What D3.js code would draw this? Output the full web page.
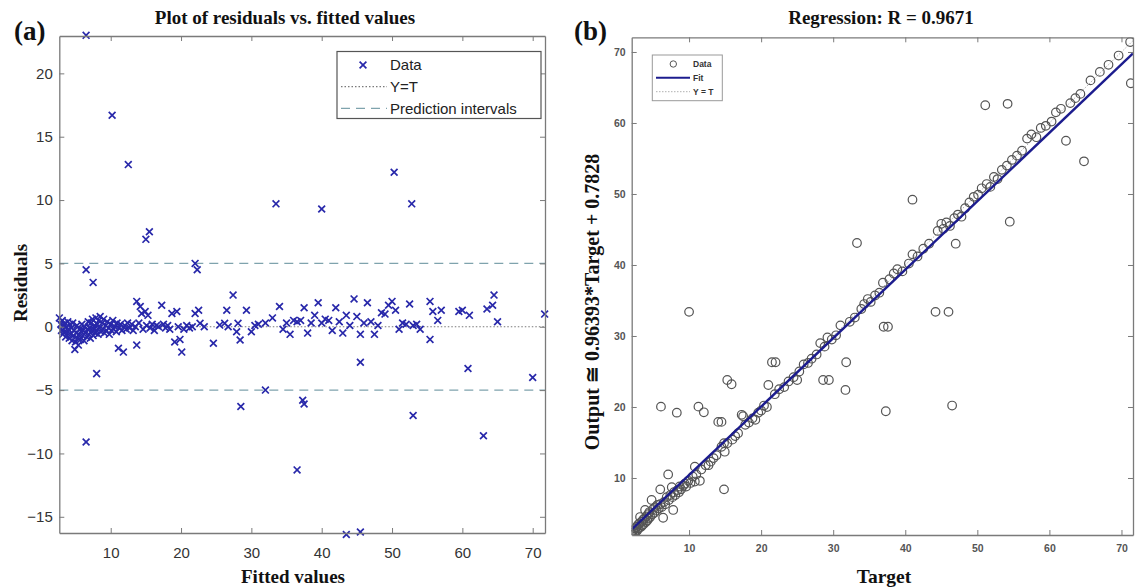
<!DOCTYPE html>
<html><head><meta charset="utf-8">
<script src="https://cdn.jsdelivr.net/npm/d3@7"></script>
<style>
body{margin:0;background:#fff;}
svg{display:block;}
</style></head>
<body>
<svg id="chart" width="1135" height="587"></svg>
<script>
// ---------- Panel (a): residuals vs fitted values ----------
const residFitted = [
2.7,2.9,3.0,3.1,3.2,3.3,3.4,3.5,3.6,3.7,3.8,3.9,4.0,4.1,4.2,4.3,4.4,4.5,4.6,4.7,4.8,4.9,5.0,5.1,5.2,5.3,5.4,5.5,5.6,5.7,5.8,5.9,6.0,6.1,6.2,6.3,6.4,6.6,6.7,6.8,6.9,7.0,7.1,7.2,7.3,7.4,7.5,7.6,7.7,7.8,7.9,8.0,8.1,8.2,8.3,8.4,8.5,8.6,8.8,8.9,9.0,9.1,9.3,9.4,9.5,9.7,9.8,10.0,10.1,10.3,10.4,10.6,10.8,10.9,11.1,11.2,11.4,11.6,11.8,12.0,12.2,12.4,12.7,13.0,13.2,13.5,13.7,13.7,14.0,14.2,14.4,14.6,14.9,15.1,15.3,15.6,15.9,16.2,16.5,16.8,17.25,17.5,17.8,18.1,18.4,18.7,19.1,19.4,19.6,19.85,20.1,20.4,20.8,21.2,21.6,22.0,22.5,22.7,23.3,24.6,25.5,26.2,26.5,26.7,27.4,27.9,28.1,28.4,29.3,30.0,
30.5,31.0,32.0,33.0,34.0,34.5,35.0,35.5,36.0,36.5,37.0,37.5,38.0,38.5,39.0,39.5,40.0,40.5,41.0,41.5,42.0,42.5,43.0,43.5,44.0,44.6,45.0,45.5,46.0,46.5,47.0,47.5,48.0,48.5,49.0,49.5,50.0,50.5,51.0,51.5,52.0,52.5,53.0,53.5,54.0,55.4,55.8,55.4,56.5,57.0,59.5,60.0,61.0,63.5,64.5,64.3,65.0,
6.5,10.2,12.5,15.0,15.5,6.5,7.5,22.0,22.3,33.5,40.0,50.3,52.8,6.5,8.0,28.5,32.0,36.5,37.3,37.5,43.5,45.5,45.5,53.0,60.8,63.0,70.0,71.7];
const residValues = [
0.7,0.2,-0.3,0.5,-0.6,0.1,-0.4,0.3,-0.8,0.0,-0.5,0.4,-0.2,-0.9,0.2,-0.6,-0.1,-1.1,0.3,-0.7,-0.3,-1.8,-1.2,-0.5,0.1,-0.9,-1.45,-0.6,-0.2,-1.0,-0.4,0.2,-0.7,-0.3,-1.1,0.0,-0.5,-0.8,-0.2,0.4,-0.6,-0.1,-0.9,0.3,-0.4,0.6,-0.7,-0.2,0.1,-0.5,0.7,-0.3,0.2,-0.6,0.5,-0.1,0.8,-0.4,0.3,-0.2,0.6,-0.5,0.1,-0.3,0.4,-0.1,-0.6,0.2,-0.3,0.5,-0.2,0.0,-0.4,0.3,-1.7,-0.1,0.2,-0.3,-2.0,0.1,-0.2,0.3,-0.1,0.2,-0.3,0.0,2.0,-1.45,0.3,1.6,1.05,-0.2,1.2,0.1,0.9,-0.1,0.2,-0.3,0.1,0.0,1.7,0.2,-0.1,0.1,-0.2,1.05,-1.2,1.2,0.0,-1.0,-2.0,-0.2,0.1,-0.1,0.0,1.05,1.3,0.27,0.0,-1.3,0.13,0.27,1.3,0.0,2.5,-0.4,0.27,-1.05,1.3,-0.4,
0.1,0.2,0.3,0.7,1.6,-0.2,0.3,-0.6,0.5,0.4,0.5,1.5,-0.5,0.3,0.9,1.9,0.3,0.6,0.5,-0.3,1.5,0.4,-0.5,0.9,0.1,2.2,0.8,-0.6,0.3,1.9,0.4,-0.6,0.1,1.1,1.0,1.7,2.0,1.3,-0.2,0.3,0.2,1.8,0.1,0.2,-0.2,2.0,1.2,-1.0,0.5,1.3,1.2,1.3,0.9,1.4,2.5,1.7,0.4,
23.0,16.7,12.8,6.9,7.5,4.5,3.5,5.0,4.5,9.7,9.3,12.2,9.7,-9.1,-3.7,-6.3,-5.0,-11.3,-5.8,-6.1,-16.4,-16.2,-2.8,-7.0,-3.3,-8.6,-4.0,1.0];
const predInterval = [-5, 5];
const ticksAx = [10,20,30,40,50,60,70];
const ticksAy = [-15,-10,-5,0,5,10,15,20];

// ---------- Panel (b): regression ----------
const target = [2.0,2.1,2.2,2.3,2.4,2.5,2.6,2.7,2.8,2.9,3.0,3.1,3.2,3.3,3.4,3.5,3.6,3.7,3.8,3.9,4.0,4.1,4.2,4.3,4.4,4.5,4.6,4.8,4.9,5.0,5.2,5.3,5.5,5.6,5.8,6.0,6.0,6.1,6.2,6.4,6.5,6.7,6.9,7.1,7.2,7.4,7.6,7.7,7.8,7.9,8.1,8.3,8.4,8.6,8.7,8.9,9.2,9.4,9.6,9.9,10.0,10.2,10.5,10.8,10.8,11.0,11.3,11.5,11.7,12.05,12.3,12.7,13.0,13.4,13.8,14.05,14.5,14.5,14.85,14.85,14.95,15.3,15.3,15.9,16.0,16.4,16.8,17.3,17.5,17.8,18.3,18.8,19.2,19.6,20.0,20.4,20.8,21.0,21.5,21.9,22.0,22.5,23.2,23.8,24.5,25.0,25.3,25.9,26.5,27.0,27.7,28.2,28.6,28.8,29.2,29.4,29.8,30.4,31.0,31.7,31.8,32.3,33.0,33.3,33.9,34.3,34.8,35.2,35.8,36.4,36.9,37.0,37.3,37.6,37.8,38.4,38.9,39.6,40.5,41.0,41.0,41.7,42.5,43.3,44.2,44.5,45.0,45.3,45.7,46.0,46.2,46.5,46.8,47.0,47.3,47.8,48.3,48.9,49.5,50.1,50.6,51.1,51.3,51.8,52.3,52.8,53.4,54.2,54.5,54.1,54.8,55.5,56.2,56.9,57.5,58.2,58.8,59.5,60.3,60.9,61.6,62.3,62.9,63.6,64.3,64.8,65.7,67.0,68.2,69.6,71.3,71.2];
const output = [2.0,2.3,1.98,2.6,2.2,2.9,2.4,3.1,2.6,3.4,2.9,3.6,4.5,3.1,3.8,3.3,4.1,3.5,4.3,5.5,3.8,4.6,4.0,4.9,4.3,5.2,4.5,6.9,4.9,5.6,5.1,5.9,5.4,6.2,5.7,8.4,6.3,20.05,5.9,4.4,6.6,6.3,7.3,10.5,6.9,7.6,8.7,7.3,5.5,8.0,7.6,19.2,8.3,8.0,8.8,8.4,8.9,9.2,8.8,9.6,33.4,9.3,10.2,9.5,11.6,10.5,20.05,9.6,11.2,19.25,11.8,11.8,12.3,12.8,13.2,17.9,17.9,14.4,14.9,8.4,13.7,23.8,14.9,23.2,15.4,15.9,16.3,18.9,18.7,17.5,17.8,18.4,18.2,19.2,19.5,20.2,20.0,23.1,26.3,21.8,26.3,22.5,22.8,23.6,24.2,23.8,25.0,26.0,26.2,26.8,27.4,29.0,23.8,28.5,29.8,23.8,29.5,30.1,31.5,22.4,26.3,32.0,32.6,43.1,33.8,34.5,35.2,34.8,35.7,36.1,37.5,31.3,19.4,31.3,38.0,38.8,39.4,39.1,40.2,41.5,49.2,41.2,42.3,43.0,33.4,44.8,45.8,45.1,46.0,33.4,45.5,20.2,46.6,43.0,47.1,46.8,48.0,48.8,49.6,49.9,50.8,62.5,51.4,51.0,52.4,52.1,53.4,62.7,46.1,54.0,54.8,55.4,56.1,57.8,58.4,58.0,59.3,59.6,60.2,61.5,62.0,57.5,62.8,63.5,64.1,54.6,66.0,67.2,68.2,69.5,65.6,71.4];
const fitSlope = 0.96393, fitIntercept = 0.7828;
const ticksB = [10,20,30,40,50,60,70];

const svg = d3.select('#chart');
const SANS = "'Liberation Sans', Arial, sans-serif";
const SERIF = "'Liberation Serif', 'Times New Roman', serif";
const AX = '#7a7a7a';

// ---------- helpers ----------
function box(g, x, y, tickX, tickY, fontSize, fontWeight, color, padX, padY){
  const [x0,x1] = x.range(), [y0,y1] = y.range();
  const bottom = g.append('g').attr('transform',`translate(0,${y0})`)
    .call(d3.axisBottom(x).tickValues(tickX).tickSizeInner(-5).tickSizeOuter(0).tickPadding(padX));
  const left = g.append('g').attr('transform',`translate(${x0},0)`)
    .call(d3.axisLeft(y).tickValues(tickY).tickSizeInner(-5).tickSizeOuter(0).tickPadding(padY));
  const top = g.append('g').attr('transform',`translate(0,${y1})`)
    .call(d3.axisTop(x).tickValues(tickX).tickSizeInner(-5).tickSizeOuter(0).tickFormat(''));
  const right = g.append('g').attr('transform',`translate(${x1},0)`)
    .call(d3.axisRight(y).tickValues(tickY).tickSizeInner(-5).tickSizeOuter(0).tickFormat(''));
  [bottom,left,top,right].forEach(a=>{
    a.selectAll('path.domain').attr('stroke',AX).attr('stroke-width',1.3);
    a.selectAll('line').attr('stroke',AX).attr('stroke-width',1);
    a.selectAll('text').attr('font-family',SANS).attr('font-size',fontSize)
      .attr('font-weight',fontWeight).attr('fill',color);
  });
  return {bottom,left};
}

// ================= Panel (a) =================
const xa = d3.scaleLinear().domain([2.69,71.75]).range([59.3,545]);
const ya = d3.scaleLinear().domain([-16.28,22.95]).range([533,36]);
const ga = svg.append('g');

// reference line y=0 (Y=T)
ga.append('line').attr('x1',xa(2.69)).attr('x2',xa(71.75)).attr('y1',ya(0)).attr('y2',ya(0))
  .attr('stroke','#7a7a7a').attr('stroke-width',1.2).attr('stroke-dasharray','1.5,2');
// prediction intervals
predInterval.forEach(v=>{
  ga.append('line').attr('x1',xa(2.69)).attr('x2',xa(71.75)).attr('y1',ya(v)).attr('y2',ya(v))
    .attr('stroke','#7fa3ad').attr('stroke-width',1.2).attr('stroke-dasharray','9,6');
});
// data markers (x)
const mk = 3.4;
const ptsA = residFitted.map((f,i)=>({f, r:residValues[i]}));
const gpa = ga.append('g');
gpa.selectAll('path').data(ptsA).enter().append('path')
  .attr('d',d=>{const cx=xa(d.f), cy=ya(d.r);
    return `M${cx-mk},${cy-mk}L${cx+mk},${cy+mk}M${cx-mk},${cy+mk}L${cx+mk},${cy-mk}`;})
  .attr('stroke','#2828aa').attr('stroke-width',1.7).attr('fill','none');

box(ga, xa, ya, ticksAx, ticksAy, 15, 'normal', '#333', 14, 6.5);

// legend (a)
const la = ga.append('g');
la.append('rect').attr('x',337).attr('y',51.5).attr('width',204).attr('height',67)
  .attr('fill','#fff').attr('stroke','#555').attr('stroke-width',1.2);
la.append('path').attr('d',`M${363-mk},${65-mk}L${363+mk},${65+mk}M${363-mk},${65+mk}L${363+mk},${65-mk}`)
  .attr('stroke','#2828aa').attr('stroke-width',1.7);
la.append('line').attr('x1',341).attr('x2',387).attr('y1',86.7).attr('y2',86.7)
  .attr('stroke','#7a7a7a').attr('stroke-width',1.2).attr('stroke-dasharray','1.5,2');
la.append('line').attr('x1',341).attr('x2',387).attr('y1',108.3).attr('y2',108.3)
  .attr('stroke','#7fa3ad').attr('stroke-width',1.2).attr('stroke-dasharray','9,6');
[['Data',65],['Y=T',86.7],['Prediction intervals',108.3]].forEach(([t,y])=>{
  la.append('text').attr('x',390).attr('y',y).attr('dy','0.36em').text(t)
    .attr('font-family',SANS).attr('font-size',15).attr('fill','#222');
});

// titles (a)
svg.append('text').attr('x',285).attr('y',24).attr('text-anchor','middle')
  .attr('font-family',SERIF).attr('font-weight','bold').attr('font-size',19).attr('fill','#111')
  .text('Plot of residuals vs. fitted values');
svg.append('text').attr('x',14).attr('y',40).attr('font-family',SERIF).attr('font-weight','bold')
  .attr('font-size',27).attr('fill','#111').text('(a)');
svg.append('text').attr('x',293).attr('y',583).attr('text-anchor','middle')
  .attr('font-family',SERIF).attr('font-weight','bold').attr('font-size',19).attr('fill','#111')
  .text('Fitted values');
svg.append('text').attr('transform','translate(27,283) rotate(-90)').attr('text-anchor','middle')
  .attr('font-family',SERIF).attr('font-weight','bold').attr('font-size',19).attr('fill','#111')
  .text('Residuals');

// ================= Panel (b) =================
const xb = d3.scaleLinear().domain([2.04,71.6]).range([631.7,1133]);
const yb = d3.scaleLinear().domain([1.97,72.07]).range([535,37.3]);
const gb = svg.append('g');
svg.append('clipPath').attr('id','clipB').append('rect')
  .attr('x',631.7).attr('y',37.3).attr('width',1133-631.7).attr('height',535-37.3);
const gbc = gb.append('g').attr('clip-path','url(#clipB)');

// Y = T
gbc.append('line').attr('x1',xb(2.04)).attr('y1',yb(2.04)).attr('x2',xb(71.6)).attr('y2',yb(71.6))
  .attr('stroke','#b0b0b0').attr('stroke-width',1).attr('stroke-dasharray','1.5,1.5');
// data circles
const ptsB = target.map((t,i)=>({t, o:output[i]}));
gbc.selectAll('circle').data(ptsB).enter().append('circle')
  .attr('cx',d=>xb(d.t)).attr('cy',d=>yb(d.o)).attr('r',4.3)
  .attr('fill','none').attr('stroke','#555').attr('stroke-width',1.2);
// fit line
const fitX = [2.04, 71.6];
gbc.append('line').attr('x1',xb(fitX[0])).attr('y1',yb(fitSlope*fitX[0]+fitIntercept))
  .attr('x2',xb(fitX[1])).attr('y2',yb(fitSlope*fitX[1]+fitIntercept))
  .attr('stroke','#1c1c8e').attr('stroke-width',2.4);

box(gb, xb, yb, ticksB, ticksB, 10.5, 'bold', '#555', 9.5, 6);

// legend (b)
const lb = gb.append('g');
lb.append('rect').attr('x',652.3).attr('y',55).attr('width',70).attr('height',45.7)
  .attr('fill','#fff').attr('stroke','#999').attr('stroke-width',1);
lb.append('circle').attr('cx',673.3).attr('cy',64).attr('r',3.2).attr('fill','none')
  .attr('stroke','#555').attr('stroke-width',1);
lb.append('line').attr('x1',656).attr('x2',690).attr('y1',77.7).attr('y2',77.7)
  .attr('stroke','#1c1c8e').attr('stroke-width',2);
lb.append('line').attr('x1',656).attr('x2',690).attr('y1',91.7).attr('y2',91.7)
  .attr('stroke','#b0b0b0').attr('stroke-width',1).attr('stroke-dasharray','1.5,1.5');
[['Data',64],['Fit',77.7],['Y = T',91.7]].forEach(([t,y])=>{
  lb.append('text').attr('x',693).attr('y',y).attr('dy','0.36em').text(t)
    .attr('font-family',SANS).attr('font-size',8.5).attr('font-weight','bold').attr('fill','#333');
});

// titles (b)
svg.append('text').attr('x',881).attr('y',24).attr('text-anchor','middle')
  .attr('font-family',SERIF).attr('font-weight','bold').attr('font-size',19).attr('fill','#111')
  .text('Regression: R = 0.9671');
svg.append('text').attr('x',574).attr('y',40).attr('font-family',SERIF).attr('font-weight','bold')
  .attr('font-size',27).attr('fill','#111').text('(b)');
svg.append('text').attr('x',884).attr('y',583).attr('text-anchor','middle')
  .attr('font-family',SERIF).attr('font-weight','bold').attr('font-size',19.5).attr('fill','#111')
  .text('Target');
svg.append('text').attr('transform','translate(599,302) rotate(-90)').attr('text-anchor','middle')
  .attr('font-family',SERIF).attr('font-weight','bold').attr('font-size',20).attr('fill','#111')
  .text('Output \u2245 0.96393*Target + 0.7828');
</script>
</body></html>
